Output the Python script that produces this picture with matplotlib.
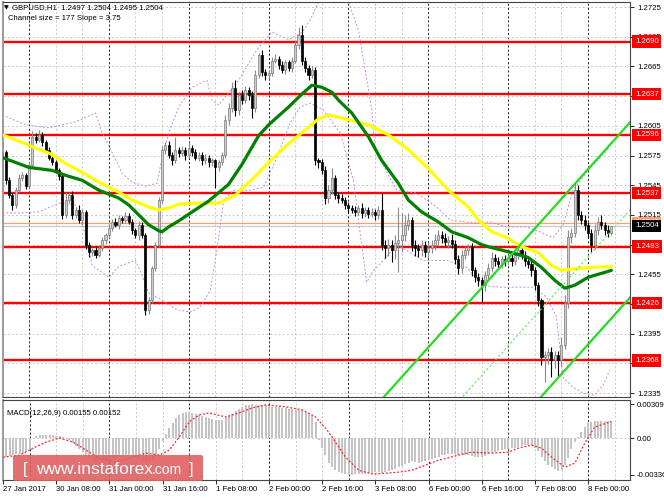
import numpy as np
import matplotlib
matplotlib.use('Agg')
import matplotlib.pyplot as plt
from matplotlib.patches import FancyBboxPatch

plt.rcParams['font.family'] = ['Liberation Sans', 'DejaVu Sans']

# %% Data (GBPUSD, H1, 27 Jan 16:00 .. 8 Feb 07:00)
pip = 0.0001
first_open = 1.2550
closes = np.array([
    1.2579, 1.2550, 1.2535, 1.2525, 1.2540, 1.2552, 1.2555, 1.2544, 1.2565, 1.2594,
    1.2591, 1.2596, 1.2589, 1.2581, 1.2573, 1.2568, 1.2560, 1.2554, 1.2515, 1.2530,
    1.2535, 1.2515, 1.2520, 1.2510, 1.2518, 1.2485, 1.2478, 1.2480, 1.2475, 1.2482,
    1.2490, 1.2495, 1.2502, 1.2508, 1.2505, 1.2512, 1.2510, 1.2514, 1.2508, 1.2500,
    1.2495, 1.2505, 1.2495, 1.2419, 1.2429, 1.2461, 1.2485, 1.2530, 1.2581, 1.2586,
    1.2576, 1.2570, 1.2581, 1.2578, 1.2581, 1.2576, 1.2583, 1.2579, 1.2573, 1.2576,
    1.2570, 1.2573, 1.2568, 1.2570, 1.2563, 1.2568, 1.2576, 1.2611, 1.2623, 1.2643,
    1.2621, 1.2636, 1.2631, 1.2641, 1.2636, 1.2623, 1.2656, 1.2677, 1.2659, 1.2656,
    1.2658, 1.2671, 1.2673, 1.2666, 1.2661, 1.2669, 1.2663, 1.2671, 1.2687, 1.2697,
    1.2671, 1.2663, 1.2656, 1.2661, 1.2570, 1.2568, 1.2560, 1.2532, 1.2540, 1.2552,
    1.2535, 1.2532, 1.2530, 1.2525, 1.2522, 1.2520, 1.2518, 1.2522, 1.2517, 1.2520,
    1.2516, 1.2518, 1.2515, 1.2520, 1.2485, 1.2482, 1.2485, 1.2480, 1.2487, 1.2490,
    1.2495, 1.2505, 1.2510, 1.2485, 1.2482, 1.2480, 1.2485, 1.2478, 1.2482, 1.2485,
    1.2490, 1.2495, 1.2492, 1.2488, 1.2490, 1.2486, 1.2470, 1.2461, 1.2475, 1.2480,
    1.2483, 1.2459, 1.2452, 1.2449, 1.2444, 1.2454, 1.2461, 1.2472, 1.2468, 1.2465,
    1.2470, 1.2468, 1.2472, 1.2468, 1.2475, 1.2480, 1.2475, 1.2468, 1.2465, 1.2459,
    1.2444, 1.2429, 1.2371, 1.2374, 1.2377, 1.2368, 1.2374, 1.2368, 1.2384, 1.2426,
    1.2493, 1.2497, 1.2540, 1.2515, 1.2510, 1.2505, 1.2497, 1.2485, 1.2500, 1.2508,
    1.2505, 1.2500, 1.2497, 1.2504,
])
# upper / lower shadow lengths, pips
wick_up = np.array([
    3, 2, 3, 2, 3, 4, 3, 2, 3, 6,
    4, 5, 3, 2, 3, 2, 3, 2, 3, 8,
    3, 4, 3, 5, 3, 2, 3, 2, 3, 3,
    3, 2, 4, 3, 4, 3, 2, 4, 3, 3,
    2, 4, 3, 2, 3, 2, 3, 3, 4, 3,
    4, 3, 13, 3, 4, 3, 5, 3, 3, 3,
    3, 4, 3, 3, 2, 3, 3, 5, 5, 6,
    8, 3, 5, 4, 3, 4, 5, 2, 5, 3,
    3, 4, 5, 3, 4, 3, 3, 4, 5, 8,
    10, 4, 3, 4, 3, 3, 4, 4, 5, 10,
    3, 3, 4, 3, 3, 3, 4, 3, 5, 3,
    3, 4, 3, 4, 17, 5, 6, 5, 8, 33,
    22, 10, 7, 3, 5, 4, 5, 4, 6, 5,
    6, 5, 4, 5, 4, 6, 4, 5, 5, 4,
    3, 4, 3, 4, 3, 4, 5, 6, 4, 5,
    4, 5, 4, 5, 7, 7, 4, 4, 3, 4,
    3, 3, 2, 4, 4, 5, 4, 4, 8, 8,
    7, 5, 7, 5, 4, 5, 3, 4, 6, 5,
    7, 3, 5, 0,
])
wick_dn = np.array([
    3, 4, 3, 5, 3, 2, 3, 3, 2, 3,
    3, 2, 4, 3, 2, 3, 3, 4, 4, 3,
    3, 4, 3, 3, 5, 4, 5, 4, 3, 2,
    3, 4, 3, 3, 2, 4, 3, 3, 2, 4,
    3, 5, 3, 5, 4, 3, 3, 2, 3, 4,
    3, 5, 3, 4, 3, 5, 3, 4, 3, 4,
    5, 4, 5, 4, 21, 4, 3, 3, 5, 4,
    6, 5, 4, 3, 5, 10, 4, 3, 4, 5,
    4, 3, 3, 4, 3, 4, 3, 4, 3, 4,
    5, 4, 5, 3, 5, 6, 4, 6, 5, 4,
    4, 5, 3, 4, 5, 3, 4, 3, 5, 4,
    4, 3, 5, 4, 5, 10, 8, 13, 10, 30,
    12, 6, 5, 6, 8, 7, 6, 5, 6, 5,
    5, 6, 5, 4, 6, 4, 5, 6, 5, 4,
    5, 6, 5, 6, 17, 6, 5, 4, 5, 5,
    4, 5, 4, 5, 4, 5, 4, 5, 4, 6,
    5, 6, 8, 25, 10, 17, 8, 17, 6, 4,
    5, 6, 4, 5, 4, 5, 5, 7, 4, 5,
    4, 5, 4, 2,
])

# moving averages (bar index, price)
green_bars = [0, 8, 15, 19, 24, 29, 35, 38, 41, 44, 47, 48, 50, 53, 57, 62, 68, 72, 77, 80,
              86, 90, 93, 96, 99, 101, 105, 110, 114, 119, 122, 126, 131, 135, 140, 144,
              147, 153, 158, 162, 166, 169, 172, 176, 180, 183]
green_vals = [1.2573, 1.2563, 1.2560, 1.2555, 1.2550, 1.2540, 1.2532, 1.2525, 1.2515, 1.2505,
              1.2499, 1.2498, 1.2503, 1.2509, 1.2518, 1.2529, 1.2546, 1.2566, 1.2595, 1.2606,
              1.2624, 1.2637, 1.2646, 1.2644, 1.2639, 1.2631, 1.2618, 1.2594, 1.2570, 1.2547,
              1.2530, 1.2518, 1.2508, 1.2498, 1.2492, 1.2485, 1.2482, 1.2477, 1.2472, 1.2462,
              1.2449, 1.2441, 1.2444, 1.2452, 1.2456, 1.2459]
yellow_bars = [0, 9, 15, 19, 24, 29, 35, 39, 44, 47, 50, 53, 59, 65, 70, 75, 80, 86, 90, 95,
               98, 102, 110, 116, 122, 128, 134, 140, 143, 147, 151, 156, 161, 165, 168,
               173, 177, 183]
yellow_vals = [1.2596, 1.2584, 1.2576, 1.2567, 1.2558, 1.2548, 1.2538, 1.2530, 1.2523, 1.2520,
               1.2522, 1.2526, 1.2527, 1.2527, 1.2535, 1.2551, 1.2568, 1.2587, 1.2598, 1.2612,
               1.2616, 1.2613, 1.2606, 1.2596, 1.2581, 1.2562, 1.2540, 1.2523, 1.2510, 1.2498,
               1.2493, 1.2483, 1.2477, 1.2464, 1.2459, 1.2461, 1.2462, 1.2463]

# bands (purple dashed)
upper_bars = [0, 7, 14, 22, 28, 30, 33, 36, 39, 43, 46.5, 48, 50, 53, 57, 61.5, 63, 65, 71,
              76.5, 81, 86, 90, 92.5, 95, 99, 104, 107, 109, 111, 112, 114.5, 118.5, 124.5,
              130.5, 134.5, 141.5, 146.5, 151.5, 157.5, 161.5, 165.5, 168.5, 171.5, 176.5,
              182.5]
upper_vals = [1.2616, 1.2606, 1.2603, 1.2609, 1.2618, 1.2598, 1.2578, 1.2557, 1.2548, 1.2544,
              1.2547, 1.2573, 1.2598, 1.2624, 1.2644, 1.2651, 1.2631, 1.2626, 1.2651, 1.2682,
              1.2700, 1.2692, 1.2699, 1.2712, 1.2730, 1.2757, 1.2730, 1.2702, 1.2662, 1.2622,
              1.2581, 1.2565, 1.2540, 1.2537, 1.2523, 1.2510, 1.2507, 1.2508, 1.2503, 1.2503,
              1.2498, 1.2492, 1.2505, 1.2540, 1.2562, 1.2583]
lower_bars = [0, 5, 11, 17, 22, 25, 27, 32, 35, 40, 42, 44, 48, 52.5, 56.5, 59.5, 62.5,
              64.5, 66.5, 69.5, 74.5, 78.5, 82.5, 86.5, 89.5, 92.5, 96.5, 101.5, 105.5, 107.5,
              109.5, 111.5, 114.5, 118.5, 126.5, 133.5, 139.5, 144.5, 149.5, 154.5, 159.5,
              163.5, 166.5, 168.5, 171.5, 174.5, 178, 180.5, 182.5]
lower_vals = [1.2517, 1.2517, 1.2518, 1.2527, 1.2525, 1.2495, 1.2464, 1.2452, 1.2463, 1.2469,
              1.2454, 1.2436, 1.2429, 1.2419, 1.2417, 1.2422, 1.2439, 1.2480, 1.2530, 1.2540,
              1.2540, 1.2543, 1.2573, 1.2608, 1.2624, 1.2628, 1.2621, 1.2598, 1.2550, 1.2497,
              1.2447, 1.2459, 1.2469, 1.2485, 1.2469, 1.2469, 1.2462, 1.2444, 1.2442, 1.2442,
              1.2442, 1.2432, 1.2412, 1.2351, 1.2341, 1.2335, 1.2333, 1.2343, 1.2358]

# regression channel: size 177 pips, slope 3.75 pips/bar
chan_size = 177
chan_slope = 3.75
chan_ref_bar = 183
chan_ref_mid = 1.2499
chan_from_bar = 100

levels = [1.2690, 1.2637, 1.2596, 1.2537, 1.2483, 1.2426, 1.2368]
bid, ask = 1.2504, 1.2507
price_ticks = [1.2335, 1.2365, 1.2395, 1.2425, 1.2455, 1.2485, 1.2515, 1.2545, 1.2575,
               1.2605, 1.2635, 1.2665, 1.2695, 1.2725]

# MACD histogram (x 1e-5) and signal line
macd_hist = np.array([
    -176, -172, -168, -160, -150, -145, -140, -130, -100,
    5, 15, 25, 30, 30, 28, 25, 20, 15, 8, 3,
    -20, -45, -70, -100, -130, -160, -190, -210, -222, -225,
    -222, -215, -205, -190, -175, -165, -160, -155, -160, -170,
    -185, -200, -210, -222, -220, -200, -160, -100, -30,
    40, 90, 140, 180, 210, 230, 240,
    240, 235, 225, 215, 205, 195, 185, 175, 168, 165, 170, 185, 200, 225,
    250, 270, 285, 300, 305, 309,
    305, 305, 300, 300, 295, 290, 290, 285, 280, 275, 270, 265, 262, 260, 255,
    240, 220, 200, 150, -20, -90, -160, -230, -270,
    -290, -310, -325, -335, -336, -336, -335, -333, -330, -328,
    -325, -320, -315, -310, -320, -315, -305, -295, -285, -270,
    -255, -240, -225,
    -215, -220, -225, -222, -215, -205, -195,
    -180, -170, -160, -155, -150, -148, -150, -158, -160, -160,
    -158, -165, -172, -176, -175, -165, -150, -135, -125, -118,
    -110, -105, -100, -95, -88, -80, -72, -68, -65, -70,
    -90,
    -120, -170, -210, -245, -270, -285, -300, -290, -250, -180, -100,
    -40, 10, 60, 100, 140, 150, 155, 158, 160, 160, 158, 155,
]) * 1e-5
signal_bars = [0, 5, 9, 13, 17, 21, 25, 29, 34, 39, 43, 47, 50, 53, 56, 59, 62, 67, 71, 75,
               79, 85, 90, 94, 97, 99, 103, 107, 111, 115, 119, 123, 127, 131, 137, 141,
               147, 152, 155, 159, 162, 165, 169, 172, 175, 178, 183]
signal_vals = np.array([-176, -157, -93, -37, 0, -37, -111, -185, -222, -176, -139, -157, -111,
                        9, 148, 213, 231, 194, 231, 278, 305, 287, 259, 194, 90, 10, -176,
                        -296, -330, -324, -314, -296, -250, -204, -157, -130, -139, -130,
                        -93, -65, -93, -176, -268, -231, -46, 102, 152]) * 1e-5

label_bars = [0, 16, 32, 48, 64, 80, 96, 112, 128, 144, 160, 176]
label_texts = ['27 Jan 2017', '30 Jan 08:00', '31 Jan 00:00', '31 Jan 16:00', '1 Feb 08:00',
               '2 Feb 00:00', '2 Feb 16:00', '3 Feb 08:00', '6 Feb 00:00', '6 Feb 16:00',
               '7 Feb 08:00', '8 Feb 00:00']

# %% Figure
W, H = 664, 498
fig = plt.figure(figsize=(W / 100, H / 100), dpi=100)
ax = fig.add_axes([3 / W, 1 - 397 / H, 627 / W, 395 / H])
axm = fig.add_axes([3 / W, 1 - 480 / H, 627 / W, 80 / H])
fs = 5.6
xlim = (0.2, 188.6)

for a in (ax, axm):
    a.set_xlim(*xlim)
    for b in range(8, 189, 8):
        dark = (b - 8) % 24 == 0
        a.axvline(b, color='black' if dark else '#c4c4c4', lw=0.6,
                  ls=(0, (2.5, 2.5)), zorder=0)
    for s in a.spines.values():
        s.set_color('#444444')
        s.set_linewidth(0.8)
    a.spines['left'].set_color('#9a9a9a')
    a.spines['left'].set_linewidth(1.4)

# %% Main price panel
ax.set_ylim(1.23311, 1.27301)
for p in price_ticks:
    ax.axhline(p, color='#c4c4c4', lw=0.6, ls=(0, (2.5, 2.5)), zorder=0)

for lv in levels:
    ax.axhline(lv, color='#ff0000', lw=1.7, zorder=1)
ax.axhline(ask, color='#ff9f70', lw=0.9, zorder=1)
ax.axhline(bid, color='#c8c8c8', lw=0.9, zorder=1)

ax.plot(upper_bars, upper_vals, color='#c48ae6', lw=0.7, ls=(0, (2, 2)), zorder=2)
ax.plot(lower_bars, lower_vals, color='#c48ae6', lw=0.7, ls=(0, (2, 2)), zorder=2)

x = np.arange(len(closes))
opens = np.r_[first_open, closes[:-1]]
highs = np.maximum(opens, closes) + wick_up * pip
lows = np.minimum(opens, closes) - wick_dn * pip
bull = closes >= opens
bear = ~bull
ax.vlines(x[bull], lows[bull], highs[bull], color='#8a8a8a', lw=0.8, zorder=3)
ax.vlines(x[bear], lows[bear], highs[bear], color='black', lw=0.8, zorder=3)
ax.bar(x[bull], (closes - opens)[bull], bottom=opens[bull], width=0.62,
       color='#cfcfcf', edgecolor='#7a7a7a', lw=0.5, zorder=4)
ax.bar(x[bear], (closes - opens)[bear], bottom=opens[bear], width=0.62,
       color='black', edgecolor='black', lw=0.5, zorder=4)

ax.plot(yellow_bars, yellow_vals, color='#ffff00', lw=2.3, zorder=5, solid_capstyle='round')
ax.plot(green_bars, green_vals, color='#008000', lw=2.3, zorder=5, solid_capstyle='round')

cb = np.array([chan_from_bar, xlim[1] + 1])
mid = chan_ref_mid + (cb - chan_ref_bar) * chan_slope * pip
half = chan_size / 2 * pip
ax.plot(cb, mid + half, color='#22dd22', lw=1.6, zorder=6)
ax.plot(cb, mid - half, color='#22dd22', lw=1.6, zorder=6)
ax.plot(cb, mid, color='#55ee55', lw=0.8, ls=(0, (2, 2)), zorder=6)

# tick labels that sit fully under a level tag are not shown
hidden = [p for p in price_ticks if min(abs(p - lv) for lv in levels) < 0.0004]
ax.yaxis.tick_right()
ax.set_yticks(price_ticks)
ax.set_yticklabels(['' if p in hidden else f'{p:.4f}' for p in price_ticks])
ax.tick_params(axis='y', labelsize=fs, length=3, pad=2, width=0.6)
ax.set_xticks([])

ytr = ax.get_yaxis_transform()
tag = dict(boxstyle='square,pad=0.35', ec='none')
for lv in levels:
    ax.text(1.008, lv, f'{lv:.4f}', transform=ytr, ha='left', va='center', fontsize=fs,
            color='white', clip_on=False, zorder=10, bbox=dict(tag, fc='#ff0000'))
ax.text(1.008, ask, f'{ask:.4f}', transform=ytr, ha='left', va='center', fontsize=fs,
        color='white', clip_on=False, zorder=10, bbox=dict(tag, fc='#ff9f70'))
ax.text(1.008, bid, f'{bid:.4f}', transform=ytr, ha='left', va='center', fontsize=fs,
        color='white', clip_on=False, zorder=11, bbox=dict(tag, fc='black'))

fig.text(4 / W, 1 - 8 / H, '\u25bc', fontsize=4.5, va='center', family='DejaVu Sans')
fig.text(12 / W, 1 - 8 / H, f'GBPUSD,H1  1.2497 1.2504 1.2495 {bid:.4f}', fontsize=fs,
         va='center')
fig.text(8 / W, 1 - 19 / H, f'Channel size = {chan_size} Slope = {chan_slope:.2f}',
         fontsize=fs, va='center')

# %% MACD panel
axm.set_ylim(-386e-5, 350e-5)
axm.axhline(0, color='#c4c4c4', lw=0.6, ls=(0, (2.5, 2.5)), zorder=0)
axm.bar(x, macd_hist, width=0.6, color='#c4c4c4', zorder=2)
axm.plot(signal_bars, signal_vals, color='#ff2020', lw=0.9, ls=(0, (1.5, 1.5)), zorder=3)
axm.yaxis.tick_right()
axm.set_yticks([309e-5, 0, -336e-5])
axm.set_yticklabels(['0.00309', '0.00', '-0.00336'])
axm.tick_params(axis='y', labelsize=fs, length=3, pad=2, width=0.6)
axm.set_xticks(label_bars)
axm.set_xticklabels(label_texts, ha='left')
axm.tick_params(axis='x', labelsize=fs, length=3, pad=1.5, width=0.6)
axm.text(0.006, 0.88, 'MACD(12,26,9) 0.00155 0.00152', transform=axm.transAxes,
         fontsize=fs, va='top')

# %% Watermark
fig.patches.append(FancyBboxPatch((13 / W, 1 - 481 / H), 190 / W, 26 / H,
                                  boxstyle='round,pad=0,rounding_size=0.004',
                                  transform=fig.transFigure, fc='#e06060', ec='none',
                                  alpha=0.9, zorder=20))
wy = 1 - 469 / H
fig.text(23 / W, wy, '[', fontsize=12, color='white', va='center', zorder=21)
fig.text(36 / W, wy, 'www.instaforex', fontsize=12.5, color='white', va='center', zorder=21)
fig.text(152 / W, wy - 1 / H, '.com', fontsize=10, color='white', va='center', zorder=21)
fig.text(189 / W, wy, ']', fontsize=12, color='white', va='center', zorder=21)

fig.savefig('out.png', dpi=100)
